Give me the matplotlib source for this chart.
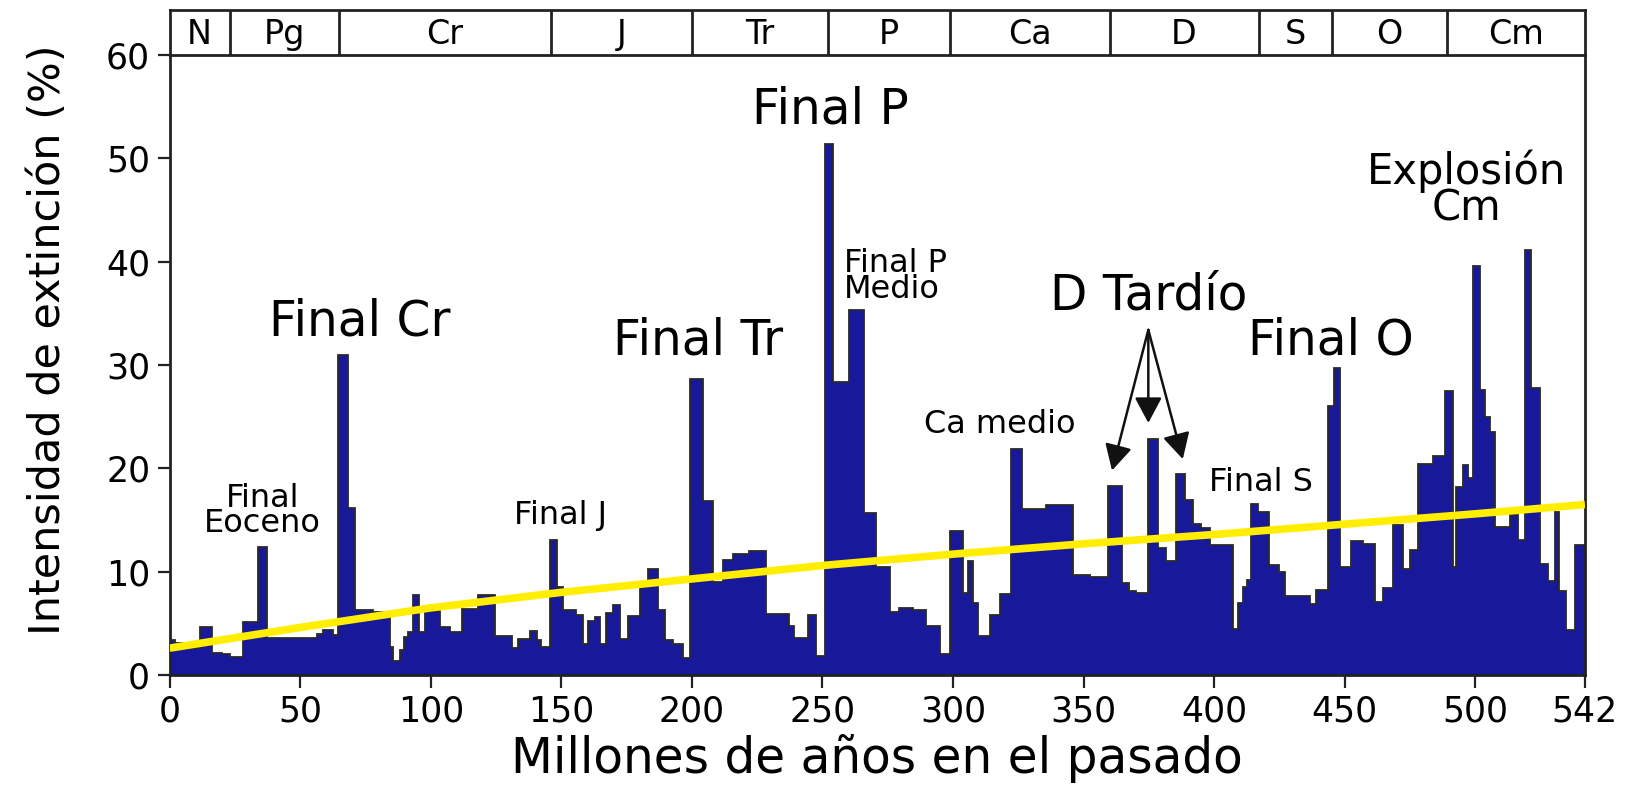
import matplotlib
matplotlib.use("Agg")
import matplotlib.pyplot as plt

plt.rcParams['font.family'] = ['DejaVu Sans']

# Stage boundaries (Ma) and extinction intensity (%) for each interval
edges = [0, 2, 5.2, 11.5, 16.1, 19.9, 23.1, 28.2, 34.0, 37.4, 56.3, 58.9, 62.7,
         64.6, 68.4, 71.0, 78.0, 84.4, 85.6, 88.2, 89.8, 91.4, 93.3, 95.6, 97.8,
         103.5, 107.4, 111.8, 118.2, 124.6, 131.0, 133.5, 138.0, 140.5, 142.4,
         145.6, 148.2, 150.7, 155.8, 158.4, 160.3, 162.9, 165.0, 167.3, 169.9,
         172.4, 175.6, 180.1, 183.3, 187.1, 189.7, 192.8, 196.7, 199.2, 204.3,
         208.2, 212.0, 215.8, 221.9, 228.5, 237.3, 239.2, 244.3, 247.5, 251.1,
         253.9, 260.3, 266.1, 270.6, 275.7, 279.5, 284.7, 289.8, 294.9, 298.7,
         303.9, 305.8, 307.7, 309.6, 314.1, 317.9, 322.4, 326.6, 335.8, 346.0,
         352.3, 359.3, 364.8, 367.5, 370.2, 374.6, 378.5, 381.7, 385.5, 388.7,
         391.9, 395.1, 398.3, 407.2, 409.1, 411.0, 412.6, 414.2, 416.7, 421.2,
         425.0, 427.0, 436.6, 439.1, 443.6, 446.1, 448.1, 452.6, 457.0, 461.5,
         464.7, 468.5, 472.4, 475.0, 478.1, 483.9, 488.4, 491.3, 492.6, 495.4,
         497.3, 499.2, 502.0, 503.7, 505.6, 507.5, 513.3, 516.5, 518.9, 521.5,
         524.7, 527.9, 530.4, 532.1, 534.9, 538.1, 542]
intensity = [3.4, 3.1, 2.6, 4.6, 2.1, 2.0, 1.7, 5.1, 12.4, 3.6, 4.0, 4.4,
             3.9, 31.0, 16.2, 6.3, 6.1, 2.7, 1.4, 2.4, 3.7, 4.2, 7.7, 4.2,
             6.2, 4.6, 4.2, 6.4, 7.7, 3.8, 2.6, 3.5, 4.3, 3.4, 2.7,
             13.1, 8.5, 6.3, 5.8, 3.0, 5.2, 5.6, 3.0, 6.0, 6.8,
             3.5, 5.7, 8.5, 10.3, 6.3, 3.4, 3.0, 1.6, 28.7, 16.8,
             9.0, 11.1, 11.7, 12.0, 5.9, 4.7, 3.6, 5.8, 1.8, 51.4,
             28.4, 35.3, 15.7, 10.5, 6.1, 6.5, 6.3, 4.7, 2.0, 13.9,
             7.9, 11.0, 7.0, 3.8, 5.8, 7.8, 21.9, 16.1, 16.5, 9.7,
             9.5, 18.3, 8.9, 8.1, 7.9, 22.8, 12.3, 11.0, 19.5, 16.9,
             14.6, 14.2, 12.6, 4.5, 7.0, 8.5, 9.2, 16.6, 15.8, 10.6,
             10.0, 7.6, 6.9, 8.2, 26.0, 29.7, 10.5, 13.0, 12.7, 7.1,
             8.4, 14.5, 10.3, 12.1, 20.4, 21.2, 27.5, 10.5, 18.2, 20.3,
             19.1, 39.6, 27.6, 25.0, 23.5, 14.3, 15.5, 13.1, 41.1, 27.8,
             10.7, 9.1, 15.8, 8.1, 4.4, 12.6]

# Long-term trend line
trend_age = [0, 50, 100, 150, 200, 250, 300, 350, 400, 450, 500, 542]
trend_val = [2.6, 4.6, 6.5, 8.0, 9.3, 10.6, 11.7, 12.7, 13.6, 14.6, 15.6, 16.5]

# Geological periods
period_names = ['N', 'Pg', 'Cr', 'J', 'Tr', 'P', 'Ca', 'D', 'S', 'O', 'Cm']
period_bounds = [0, 23, 65, 146, 200, 252, 299, 360, 417, 445, 489, 542]

x_ticks = [0, 50, 100, 150, 200, 250, 300, 350, 400, 450, 500, 542]
y_ticks = [0, 10, 20, 30, 40, 50, 60]

FILL = '#18189a'
EDGE = '#2a2a2a'

fig = plt.figure(figsize=(16.39, 7.88), dpi=100)
ax = fig.add_axes([0.1035, 0.1434, 0.8635, 0.7866])

ax.stairs(intensity, edges, fill=True, color=FILL, zorder=2)
ax.stairs(intensity, edges, baseline=None, color=EDGE, linewidth=1.3, zorder=3)
ax.plot(trend_age, trend_val, color='#ffee00', linewidth=5.5, zorder=4,
        solid_capstyle='butt')

ax.set_xlim(0, 542)
ax.set_ylim(0, 60)
ax.set_xticks(x_ticks)
ax.set_yticks(y_ticks)
ax.tick_params(axis='both', direction='out', length=9, width=1.6,
               color='#222222', labelsize=25, pad=5)
for s in ax.spines.values():
    s.set_linewidth(2.0)
    s.set_color('#222222')
ax.spines['top'].set_visible(False)

ax.set_xlabel('Millones de años en el pasado', fontsize=35, labelpad=4)
ax.set_ylabel('Intensidad de extinción (%)', fontsize=31)
ax.yaxis.set_label_coords(-0.071, 0.541)

# Annotated extinction events
big = 35
mid = 30
small = 23
ax.text(72.7, 32.9, 'Final Cr', fontsize=big, ha='center', va='baseline')
ax.text(253.1, 53.4, 'Final P', fontsize=big, ha='center', va='baseline')
ax.text(202.4, 31.0, 'Final Tr', fontsize=big, ha='center', va='baseline')
ax.text(374.9, 35.4, 'D Tardío', fontsize=big, ha='center', va='baseline')
ax.text(444.7, 31.0, 'Final O', fontsize=big, ha='center', va='baseline')
ax.text(496.6, 44.0, 'Explosión\nCm', fontsize=mid, ha='center',
        va='baseline', multialignment='center', linespacing=0.82)
ax.text(35.5, 13.8, 'Final\nEoceno', fontsize=small, ha='center',
        va='baseline', multialignment='center', linespacing=0.78)
ax.text(149.7, 14.6, 'Final J', fontsize=small, ha='center', va='baseline')
ax.text(258.3, 36.5, 'Final P\nMedio', fontsize=small, ha='left',
        va='baseline', multialignment='left', linespacing=0.78)
ax.text(317.8, 23.4, 'Ca medio', fontsize=small, ha='center', va='baseline')
ax.text(418.0, 17.8, 'Final S', fontsize=small, ha='center', va='baseline')

# Arrows to the three Late Devonian pulses
for tip in [(360.9, 19.8), (374.8, 24.4), (388.0, 20.9)]:
    ax.annotate('', xy=tip, xytext=(374.8, 33.4),
                arrowprops=dict(arrowstyle='-|>,head_length=0.6,head_width=0.32',
                                color='#111111', lw=1.8, mutation_scale=26,
                                shrinkA=0, shrinkB=0),
                zorder=5)

# Period bar above the plot
pax = fig.add_axes([0.1035, 0.9300, 0.8635, 0.057])
pax.set_xlim(0, 542)
pax.set_ylim(0, 1)
pax.set_xticks([])
pax.set_yticks([])
for s in pax.spines.values():
    s.set_linewidth(2.0)
    s.set_color('#222222')
for b in period_bounds[1:-1]:
    pax.axvline(b, color='#222222', linewidth=2.0)
for name, a, b in zip(period_names, period_bounds[:-1], period_bounds[1:]):
    pax.text((a + b) / 2, 0.47, name, fontsize=24, ha='center', va='center')

fig.savefig('out.png', dpi=100)
